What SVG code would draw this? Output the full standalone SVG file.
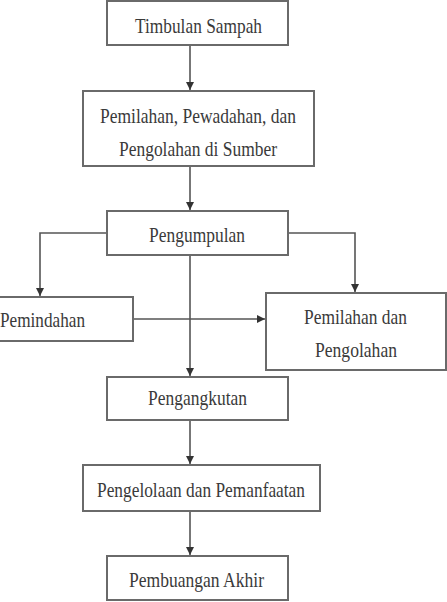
<svg xmlns="http://www.w3.org/2000/svg" width="447" height="602" viewBox="0 0 447 602">
<style>
.box{fill:#fff;stroke:#6a6a6a;stroke-width:2}
.lbl{font-family:'Liberation Serif','DejaVu Serif',serif;font-size:22px;fill:#3a3a3a}
.con{fill:none;stroke:#555;stroke-width:1.6}
</style>
<defs>
<marker id="ah" viewBox="0 0 10 10" refX="10" refY="5" markerWidth="8" markerHeight="8" markerUnits="userSpaceOnUse" orient="auto">
<path d="M0,0 L10,5 L0,10 Z" fill="#333"/>
</marker>
</defs>
<rect width="447" height="602" fill="#fff"/>
<g id="connectors">
<line class="con" x1="190" y1="45" x2="190" y2="90" marker-end="url(#ah)"/>
<line class="con" x1="190" y1="166" x2="190" y2="210" marker-end="url(#ah)"/>
<polyline class="con" points="107,233 40,233 40,296" marker-end="url(#ah)"/>
<polyline class="con" points="288,233 355,233 355,292" marker-end="url(#ah)"/>
<line class="con" x1="190" y1="255" x2="190" y2="376" marker-end="url(#ah)"/>
<line class="con" x1="133" y1="319" x2="265" y2="319" marker-end="url(#ah)"/>
<line class="con" x1="190" y1="420" x2="190" y2="464" marker-end="url(#ah)"/>
<line class="con" x1="190" y1="511" x2="190" y2="555" marker-end="url(#ah)"/>
</g>
<g id="n1"><rect class="box" x="107" y="1" width="181" height="44"/>
<text class="lbl" x="135" y="33" textLength="127" lengthAdjust="spacingAndGlyphs">Timbulan Sampah</text></g>
<g id="n2"><rect class="box" x="83" y="91" width="231" height="75"/>
<text class="lbl" x="100" y="123" textLength="196" lengthAdjust="spacingAndGlyphs">Pemilahan, Pewadahan, dan</text>
<text class="lbl" x="119" y="156" textLength="158" lengthAdjust="spacingAndGlyphs">Pengolahan di Sumber</text></g>
<g id="n3"><rect class="box" x="107" y="211" width="181" height="44"/>
<text class="lbl" x="149" y="242" textLength="96" lengthAdjust="spacingAndGlyphs">Pengumpulan</text></g>
<g id="n4"><rect class="box" x="-5" y="297" width="138" height="44"/>
<text class="lbl" x="0" y="327" textLength="85" lengthAdjust="spacingAndGlyphs">Pemindahan</text></g>
<g id="n5"><rect class="box" x="266" y="293" width="180" height="77"/>
<text class="lbl" x="304" y="324" textLength="103" lengthAdjust="spacingAndGlyphs">Pemilahan dan</text>
<text class="lbl" x="315" y="357" textLength="82" lengthAdjust="spacingAndGlyphs">Pengolahan</text></g>
<g id="n6"><rect class="box" x="107" y="377" width="181" height="43"/>
<text class="lbl" x="148" y="405" textLength="99" lengthAdjust="spacingAndGlyphs">Pengangkutan</text></g>
<g id="n7"><rect class="box" x="83" y="465" width="237" height="46"/>
<text class="lbl" x="97" y="497" textLength="208" lengthAdjust="spacingAndGlyphs">Pengelolaan dan Pemanfaatan</text></g>
<g id="n8"><rect class="box" x="107" y="556" width="181" height="44"/>
<text class="lbl" x="129" y="587" textLength="135" lengthAdjust="spacingAndGlyphs">Pembuangan Akhir</text></g>
</svg>
